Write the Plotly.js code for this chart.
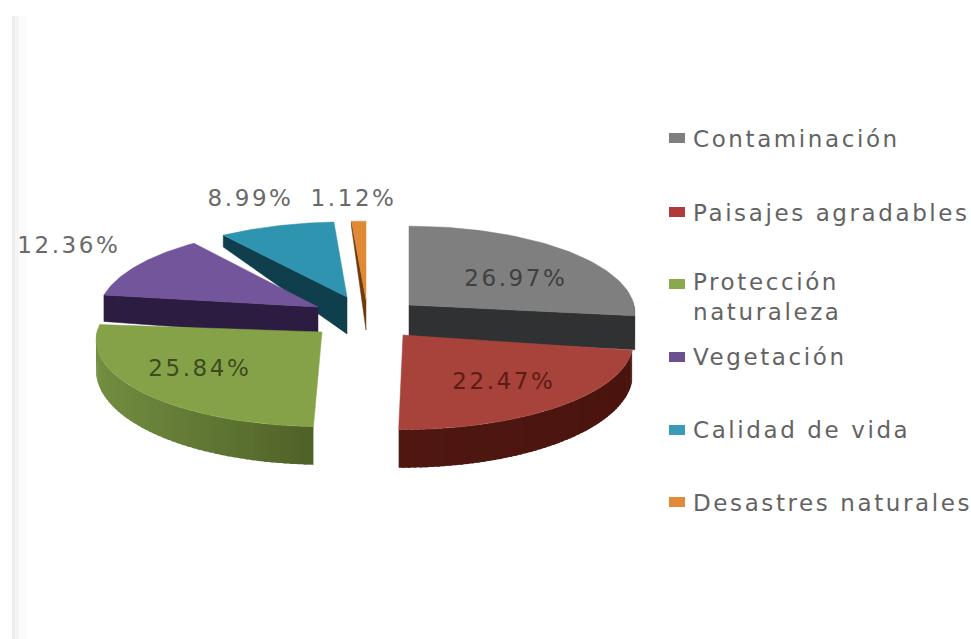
<!DOCTYPE html>
<html>
<head>
<meta charset="utf-8">
<script src="https://cdn.plot.ly/plotly-3.0.1.min.js"></script>
<style>
html,body{margin:0;padding:0;background:#fff}
#chart{width:971px;height:639px}
.annotation text{letter-spacing:2.6px}
</style>
</head>
<body>
<div id="chart"></div>
<script>
// Survey shares, in percent
const categories = ['Contaminación','Paisajes agradables','Protección<br>naturaleza','Vegetación','Calidad de vida','Desastres naturales'];
const shares = [26.97, 22.47, 25.84, 12.36, 8.99, 1.12];
// The shares above do not reach 100: this part belongs to no label and stays empty
const unlabelled = 2.25;
const unlabelledAfter = 2;

// Colours: top face, side face near the left, side face near the right
const topColors  = ['#7f7f7f','#a8433b','#86a248','#72559a','#2f94b0','#e08a35'];
const sideLeft   = ['#2f3133','#561a14','#728d40','#2d1c42','#0f3f4d','#6e3a0e'];
const sideRight  = ['#2f3133','#4a140e','#4c5e26','#2d1c42','#0f3f4d','#6e3a0e'];
const keyColors  = ['#7f7f7f','#b03a3a','#8aa84c','#6a5090','#3a9ab8','#e08a3a'];
const labelColors = ['#404040','#5e1b16','#3d4c20','#6a6a6a','#6a6a6a','#6a6a6a'];

// Projected layout of each exploded slice (pixels on the page-sized axes)
const apexX  = [409, 403, 322, 318, 347, 366];
const apexY  = [305, 335, 332, 307, 297, 300];
const radiusX = [225, 229, 225, 219, 226, 226];
const radiusY = [86, 86, 86, 86, 82, 86];
const thickness = [33, 30, 30, 30, 37, 30];
const angleNudge = [0, 3, 4, -1, 0.4, 0];
const perspective = 0.0909;

const labelX = [516, 504, 200, 69, 250, 353];
const labelY = [278, 381, 368, 245, 198, 198];
const legendY = [139, 213, 297, 357, 430, 503];
const legendKeyY = [138, 212, 284, 357, 430, 502];

const rad = d => d * Math.PI / 180;
const mix = (a, b, t) => {
  const p = c => [1, 3, 5].map(i => parseInt(c.slice(i, i + 2), 16));
  const A = p(a), B = p(b);
  return 'rgb(' + A.map((x, i) => Math.round(x + (B[i] - x) * t)).join(',') + ')';
};

function topPoint(i, deg) {
  const u = Math.sin(rad(deg)), v = Math.cos(rad(deg));
  const w = 1 + perspective * v;
  return [apexX[i] + radiusX[i] * u / w, apexY[i] - radiusY[i] * v / w, v];
}
function dropAt(i, v) {
  return thickness[i] * (v > 0 ? 1 - 0.84 * v : 1 - 0.27 * v);
}
function poly(points, color, width) {
  return {
    type: 'scatter', mode: 'lines', fill: 'toself', fillcolor: color,
    x: points.map(p => p[0]), y: points.map(p => p[1]),
    line: {color: color, width: width}, hoverinfo: 'skip', showlegend: false
  };
}

// Start and end angle of every slice, clockwise from twelve o'clock
const spans = [];
let running = 0;
shares.forEach((s, i) => {
  const from = running * 3.6 + angleNudge[i];
  const to = from + s * 3.6;
  spans.push([from, to]);
  running += s;
  if (i === unlabelledAfter) running += unlabelled;
});

// Painter's order: farthest slices first
const order = [5, 0, 4, 3, 2, 1];
const traces = [];
order.forEach(i => {
  const [from, to] = spans[i];
  const apex = [apexX[i], apexY[i]];
  const cut = deg => {
    const p = topPoint(i, deg);
    return poly([
      apex, [p[0], p[1]], [p[0], p[1] + dropAt(i, p[2])], [apex[0], apex[1] + thickness[i]], apex
    ], sideLeft[i], 0.5);
  };
  // Only the cut faces turned toward the viewer show
  if (Math.sin(rad(from)) < -0.05) traces.push(cut(from));
  if (Math.sin(rad(to)) > 0.1) traces.push(cut(to));

  // Rim of the slice, in narrow bands so its shade can change across the width
  const bands = 60;
  for (let b = 0; b < bands; b++) {
    const a0 = from + (to - from) * b / bands;
    const a1 = from + (to - from) * Math.min(bands, b + 1.5) / bands;
    const p0 = topPoint(i, a0), p1 = topPoint(i, a1);
    if (p0[2] > 0.02 && p1[2] > 0.02) continue;
    const t = (Math.min(p0[0], p1[0]) - (apexX[i] - radiusX[i])) / (i === 2 ? radiusX[i] : 2 * radiusX[i]);
    traces.push(poly([
      [p0[0], p0[1]], [p1[0], p1[1]],
      [p1[0], p1[1] + dropAt(i, p1[2])], [p0[0], p0[1] + dropAt(i, p0[2])], [p0[0], p0[1]]
    ], mix(sideLeft[i], sideRight[i], Math.min(1, t)), 0));
  }

  // Top face
  const top = [apex];
  for (let k = 0; k <= 60; k++) {
    const p = topPoint(i, from + (to - from) * k / 60);
    top.push([p[0], p[1]]);
  }
  top.push(apex);
  traces.push(poly(top, topColors[i], 0.5));
});

const fontFamily = '"DejaVu Sans", sans-serif';
const annotations = [];
shares.forEach((s, i) => {
  annotations.push({
    x: labelX[i], y: labelY[i], xref: 'x', yref: 'y', showarrow: false,
    text: s.toFixed(2) + '%', font: {family: fontFamily, size: 23, color: labelColors[i]}
  });
  annotations.push({
    x: 691, y: legendY[i], xref: 'x', yref: 'y', showarrow: false,
    xanchor: 'left', yanchor: 'middle', align: 'left',
    text: categories[i], font: {family: fontFamily, size: 23, color: '#636363'}
  });
});

const keys = keyColors.map((c, i) => ({
  type: 'rect', xref: 'x', yref: 'y', layer: 'above',
  x0: 669, x1: 685, y0: legendKeyY[i] - 5, y1: legendKeyY[i] + 5,
  fillcolor: c, line: {width: 0}
}));
// Faint scanned page edge down the left side
const edge = [[12, 15, '#ececec'], [15, 19, '#f5f5f5'], [19, 27, '#fcfcfc']].map(r => ({
  type: 'rect', xref: 'x', yref: 'y', layer: 'below',
  x0: r[0], x1: r[1], y0: 16, y1: 639, fillcolor: r[2], line: {width: 0}
}));

Plotly.newPlot('chart', traces, {
  width: 971, height: 639,
  margin: {l: 0, r: 0, t: 0, b: 0},
  paper_bgcolor: '#ffffff', plot_bgcolor: '#ffffff',
  showlegend: false,
  xaxis: {range: [0, 971], visible: false, fixedrange: true},
  yaxis: {range: [639, 0], visible: false, fixedrange: true},
  annotations: annotations,
  shapes: edge.concat(keys)
}, {displayModeBar: false, staticPlot: true});
</script>
</body>
</html>
